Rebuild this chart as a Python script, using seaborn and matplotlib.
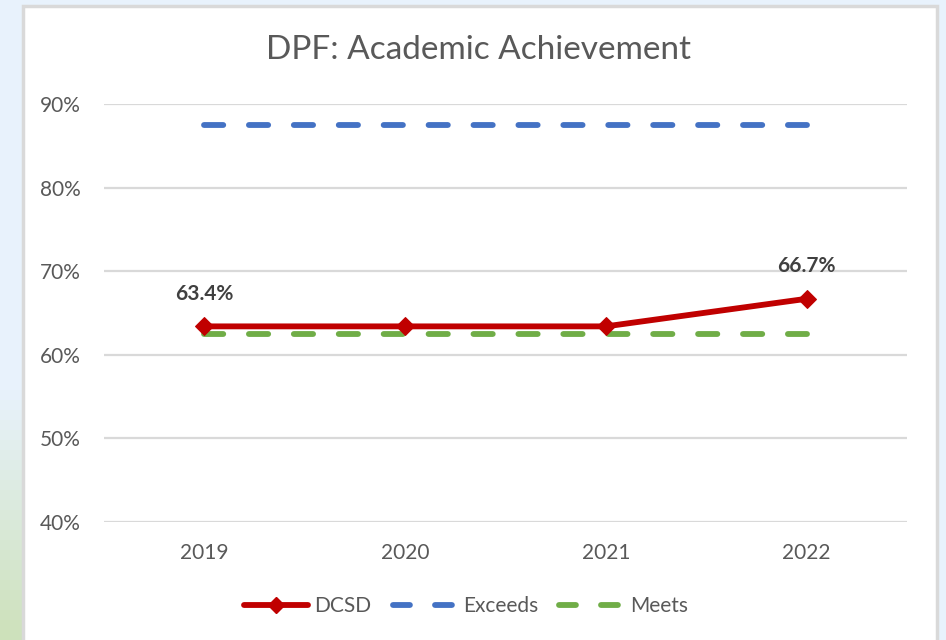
import numpy as np
import pandas as pd
import matplotlib
matplotlib.use("Agg")
import matplotlib.pyplot as plt
import seaborn as sns
from matplotlib.patches import Rectangle
from matplotlib.lines import Line2D

years = ["2019", "2020", "2021", "2022"]
dcsd = [0.634, 0.634, 0.634, 0.667]
exceeds = [0.875, 0.875, 0.875, 0.875]
meets = [0.625, 0.625, 0.625, 0.625]
label_points = {"2019": "63.4%", "2022": "66.7%"}
title = "DPF: Academic Achievement"

sns.set_theme(style="white")
plt.rcParams['font.family'] = ['Lato', 'DejaVu Sans']

fig = plt.figure(figsize=(9.46, 6.4), dpi=100)

# background gradient (light blue, greenish lower-left)
bg = fig.add_axes([0, 0, 1, 1])
h, w = 64, 95
yy, xx = np.mgrid[0:h, 0:w]
yy = yy / h
xx = xx / w
blue = np.array([0.91, 0.95, 0.99])
green = np.array([0.80, 0.88, 0.72])
t = np.clip((yy - 0.6) / 0.4, 0, 1) * np.clip(1 - xx * 3, 0, 1)
img = blue[None, None, :] * (1 - t[..., None]) + green[None, None, :] * t[..., None]
bg.imshow(img, extent=[0, 1, 0, 1], aspect='auto', origin='upper')
bg.set_xlim(0, 1); bg.set_ylim(0, 1)
bg.axis('off')
bg.add_patch(Rectangle((23/946, -0.05), (937-23)/946, 1.05 - 6/640,
                       facecolor='white', edgecolor='#D9D9D9', linewidth=2.5))

ax = fig.add_axes([104/946, 1 - 522/640, (907-104)/946, (522-104)/640])
ax.set_facecolor('none')

df_d = pd.DataFrame({"year": years, "value": dcsd})
df_e = pd.DataFrame({"year": years, "value": exceeds})
df_m = pd.DataFrame({"year": years, "value": meets})

LW = 4.2
DASH = [3.3, 4.4]
LEG_DASH = [2.9, 4.3]
sns.lineplot(data=df_e, x="year", y="value", ax=ax, color='#4472C4', linewidth=LW,
             dashes=False, zorder=2)
sns.lineplot(data=df_m, x="year", y="value", ax=ax, color='#70AD47', linewidth=LW,
             dashes=False, zorder=2)
sns.lineplot(data=df_d, x="year", y="value", ax=ax, color='#C00000', linewidth=LW,
             marker='D', markersize=9.5, markeredgecolor='#C00000', dashes=False, zorder=3)

for ln in ax.lines[:2]:
    ln.set_dashes(DASH)
    ln.set_dash_capstyle('round')
ax.lines[2].set_solid_capstyle('round')

for i, y in enumerate(years):
    if y in label_points:
        ax.annotate(label_points[y], (i, dcsd[i]), xytext=(0, 23.5), textcoords='offset points',
                    ha='center', va='center', fontsize=15, fontweight='bold', color='#404040')

ax.set_xlim(-0.5, 3.5)
ax.set_ylim(0.4, 0.9)
ax.set_yticks([0.4, 0.5, 0.6, 0.7, 0.8, 0.9])
ax.set_yticklabels([f"{int(round(v*100))}%" for v in [0.4, 0.5, 0.6, 0.7, 0.8, 0.9]])
ax.grid(axis='y', color='#D9D9D9', linewidth=1.6)
ax.set_axisbelow(True)
for s in ax.spines.values():
    s.set_visible(False)
ax.tick_params(axis='both', length=0, labelsize=15, labelcolor='#595959')
ax.tick_params(axis='y', pad=17)
ax.tick_params(axis='x', pad=15)
ax.set_xlabel("")
ax.set_ylabel("")

fig.text(479/946, 1 - 50/640, title, ha='center', va='center', fontsize=24, color='#595959')

handles = [
    Line2D([], [], color='#C00000', linewidth=LW, marker='D', markersize=8, solid_capstyle='round'),
    Line2D([], [], color='#4472C4', linewidth=LW, dashes=LEG_DASH, dash_capstyle='round'),
    Line2D([], [], color='#70AD47', linewidth=LW, dashes=LEG_DASH, dash_capstyle='round'),
]
fig.legend(handles, ["DCSD", "Exceeds", "Meets"], loc='center', bbox_to_anchor=(466/946, 1 - 606/640),
           ncol=3, frameon=False, fontsize=15, labelcolor='#595959', handlelength=3.1,
           handletextpad=0.3, columnspacing=1.0)

fig.savefig("out.png", dpi=100)
